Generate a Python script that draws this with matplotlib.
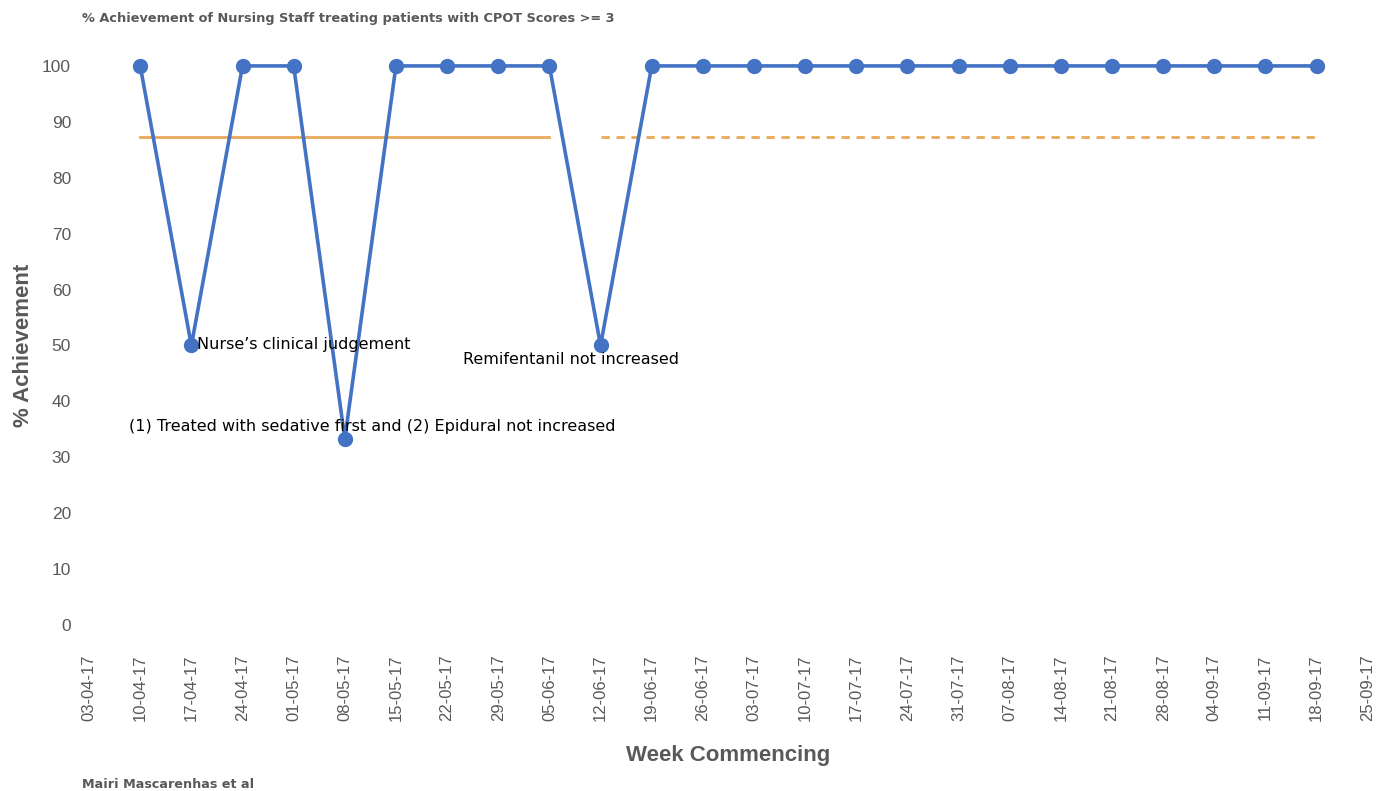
import matplotlib.pyplot as plt

# ======================
# Data
# ======================
weeks = ['03-04-17', '10-04-17', '17-04-17', '24-04-17', '01-05-17', '08-05-17',
         '15-05-17', '22-05-17', '29-05-17', '05-06-17', '12-06-17', '19-06-17',
         '26-06-17', '03-07-17', '10-07-17', '17-07-17', '24-07-17', '31-07-17',
         '07-08-17', '14-08-17', '21-08-17', '28-08-17', '04-09-17', '11-09-17',
         '18-09-17', '25-09-17']

# achievement per week, 10-04-17 .. 18-09-17
achievement = [100, 50, 100, 100, 33.3, 100, 100, 100, 100, 50, 100,
               100, 100, 100, 100, 100, 100, 100, 100, 100, 100, 100, 100, 100]

median_value = 87.2
median_solid = ('10-04-17', '05-06-17')
median_dashed = ('12-06-17', '18-09-17')

notes = [
    ('17-04-17', 50, "Nurse\u2019s clinical judgement"),
    ('08-05-17', 33.3, "(1) Treated with sedative first and (2) Epidural not increased"),
    ('12-06-17', 50, "Remifentanil not increased"),
]

# ======================
# Plot
# ======================
blue = '#4472C4'
orange = '#E9A95B'
grey = '#595959'

x_pos = {w: i for i, w in enumerate(weeks)}
data_x = list(range(1, 1 + len(achievement)))

fig = plt.figure(figsize=(13.83, 7.91), dpi=100)
ax = fig.add_axes([0.0644, 0.1745, 0.9246, 0.7775])

ax.plot(data_x, achievement, color=blue, linewidth=2.6, marker='o', markersize=10, zorder=3)
ax.plot([x_pos[median_solid[0]], x_pos[median_solid[1]]], [median_value] * 2,
        color=orange, linewidth=2, zorder=2)
ax.plot([x_pos[median_dashed[0]], x_pos[median_dashed[1]]], [median_value] * 2,
        color=orange, linewidth=2, linestyle=(0, (3, 2.4)), zorder=2)

offsets = [(4, 1), (20, 9), (-21, -10)]
aligns = [('left', 'center'), ('center', 'center'), ('center', 'center')]
for (wk, val, txt), off, (ha, va) in zip(notes, offsets, aligns):
    ax.annotate(txt, xy=(x_pos[wk], val), xytext=off, textcoords='offset points',
                ha=ha, va=va, fontsize=11.5, color='black', family='DejaVu Sans', zorder=4)

ax.set_xlim(0, len(weeks) - 1)
ax.set_ylim(-5, 105)
ax.set_xticks(range(len(weeks)))
ax.set_xticklabels(weeks, rotation=90, fontsize=12, color=grey, family='Liberation Sans')
ax.set_yticks(range(0, 101, 10))
ax.set_yticklabels([str(v) for v in range(0, 101, 10)], fontsize=12.5, color=grey,
                   family='Liberation Sans')
ax.tick_params(length=0)
ax.tick_params(axis='x', pad=1)
ax.tick_params(axis='y', pad=13)
for s in ax.spines.values():
    s.set_visible(False)

ax.set_xlabel('Week Commencing', fontsize=16, fontweight='bold', color=grey,
              family='Liberation Sans', labelpad=17)
ax.set_ylabel('% Achievement', fontsize=16, fontweight='bold', color=grey,
              family='Liberation Sans', labelpad=6)

fig.text(0.0593, 0.977, '% Achievement of Nursing Staff treating patients with CPOT Scores >= 3',
         fontsize=9.3, fontweight='bold', color=grey, ha='left', va='center')
fig.text(0.0593, 0.008, 'Mairi Mascarenhas et al', fontsize=9.2, fontweight='bold',
         color=grey, ha='left', va='center')

fig.savefig('out.png', dpi=100)
